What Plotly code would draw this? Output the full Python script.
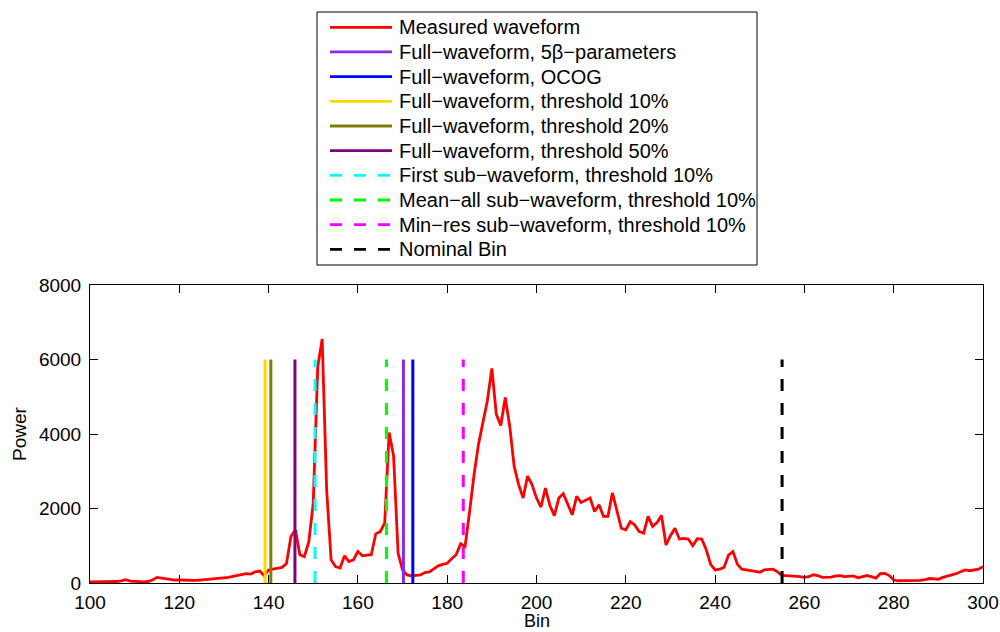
import plotly.graph_objects as go

# ---- waveform samples (range bin -> received power) ----
bins = list(range(100, 301))
power = [
    30, 30, 20, 20, 25, 30, 40, 60, 90, 50,          # 100-109
    40, 30, 30, 40, 80, 150, 130, 100, 90, 80,       # 110-119
    80, 70, 60, 70, 70, 80, 90, 100, 100, 120,       # 120-129
    120, 150, 180, 200, 210, 250, 240, 300, 320, 200,  # 130-139
    350, 380, 390, 420, 520, 1250, 1430, 760, 710, 1100,  # 140-149
    2150, 5800, 6550, 2500, 620, 440, 400, 730, 575, 620,  # 150-159
    845, 730, 750, 760, 1320, 1380, 1610, 4040, 3400, 800,  # 160-169
    350, 215, 190, 200, 215, 280, 300, 380, 460, 500,  # 170-179
    530, 650, 760, 1050, 980, 1900, 2900, 3720, 4300, 4900,  # 180-189
    5760, 4530, 4230, 4980, 4210, 3130, 2640, 2280, 2870, 2640,  # 190-199
    2280, 2040, 2550, 2080, 1810, 2280, 2400, 2100, 1830, 2330,  # 200-209
    2160, 2220, 2280, 1920, 2100, 1790, 1790, 2420, 1970, 1470,  # 210-219
    1430, 1650, 1560, 1380, 1340, 1790, 1520, 1625, 1810, 1020,  # 220-229
    1270, 1470, 1180, 1200, 1180, 1000, 1190, 1180, 900, 500,  # 230-239
    350, 370, 420, 750, 845, 500, 370, 340, 330, 310,  # 240-249
    290, 350, 360, 370, 300, 200, 200, 190, 200, 170,  # 250-259
    150, 170, 220, 200, 150, 150, 160, 190, 200, 170,  # 260-269
    180, 190, 140, 160, 200, 170, 130, 250, 260, 200,  # 270-279
    80, 60, 60, 60, 65, 70, 70, 90, 120, 110,        # 280-289
    100, 150, 180, 220, 250, 300, 350, 330, 340, 370,  # 290-299
    440,                                             # 300
]

# ---- retracking results (bin positions) ----
retracker_names = [
    "Full\u2212waveform, 5\u03b2\u2212parameters",
    "Full\u2212waveform, OCOG",
    "Full\u2212waveform, threshold 10%",
    "Full\u2212waveform, threshold 20%",
    "Full\u2212waveform, threshold 50%",
    "First sub\u2212waveform, threshold 10%",
    "Mean\u2212all sub\u2212waveform, threshold 10%",
    "Min\u2212res sub\u2212waveform, threshold 10%",
    "Nominal Bin",
]
retracker_bins = [170.2, 172.3, 139.2, 140.5, 145.9, 150.4, 166.4, 183.6, 255.0]
retracker_colors = ["#8A2BE2", "#0000FF", "#FFD700", "#808000", "#800080",
                    "#00FFFF", "#00FF00", "#FF00FF", "#000000"]
retracker_dashed = [False, False, False, False, False, True, True, True, True]
marker_top = 6000

x_ticks = [100, 120, 140, 160, 180, 200, 220, 240, 260, 280, 300]
y_ticks = [0, 2000, 4000, 6000, 8000]

FONT = "Liberation Sans, Arial, Helvetica, sans-serif"
DASH = "12px,12px"

W, H = 1000, 632
L, R, T, B = 90, 17, 285, 49
PW, PH = W - L - R, H - T - B


def px(xp):
    return (xp - L) / PW


def py(yp):
    return (H - B - yp) / PH


fig = go.Figure()

fig.add_trace(go.Scatter(
    x=bins, y=power, mode="lines", name="Measured waveform",
    line=dict(color="#FF0000", width=2.8), showlegend=False,
))

for name, b, c, dashed in zip(retracker_names, retracker_bins,
                              retracker_colors, retracker_dashed):
    fig.add_trace(go.Scatter(
        x=[b, b], y=[0, marker_top], mode="lines", name=name,
        line=dict(color=c, width=3, dash=DASH if dashed else "solid"),
        showlegend=False,
    ))

# ---- boxed legend above the axes ----
legend_names = ["Measured waveform"] + retracker_names
legend_colors = ["#FF0000"] + retracker_colors
legend_dashed = [False] + retracker_dashed

shapes = [dict(type="rect", xref="paper", yref="paper",
               x0=px(317), x1=px(757), y0=py(265), y1=py(12),
               line=dict(color="#000000", width=1), fillcolor="#FFFFFF",
               layer="above")]
annotations = []
row0, row_step = 27.3, 24.67
for i, (nm, c, d) in enumerate(zip(legend_names, legend_colors, legend_dashed)):
    yc = row0 + i * row_step
    shapes.append(dict(type="line", xref="paper", yref="paper",
                       x0=px(330), x1=px(392), y0=py(yc), y1=py(yc),
                       line=dict(color=c, width=2.8,
                                 dash=DASH if d else "solid"),
                       layer="above"))
    annotations.append(dict(xref="paper", yref="paper", x=px(397), y=py(yc),
                            text=nm, showarrow=False, xanchor="left",
                            yanchor="middle",
                            font=dict(family=FONT, size=20, color="#000000")))

# axis titles
annotations.append(dict(xref="paper", yref="paper", x=0.5, y=py(632),
                        text="Bin", showarrow=False, xanchor="center",
                        yanchor="bottom", borderpad=0,
                        font=dict(family=FONT, size=18, color="#000000")))
annotations.append(dict(xref="paper", yref="paper", x=px(19), y=0.5,
                        text="Power", showarrow=False, textangle=-90,
                        xanchor="center", yanchor="middle",
                        font=dict(family=FONT, size=19, color="#000000")))

fig.update_layout(
    width=W, height=H,
    margin=dict(l=L, r=R, t=T, b=B, autoexpand=False),
    paper_bgcolor="#FFFFFF", plot_bgcolor="#FFFFFF",
    font=dict(family=FONT, size=19, color="#000000"),
    shapes=shapes, annotations=annotations,
    showlegend=False,
)

fig.update_xaxes(
    range=[100, 300], tickvals=x_ticks, ticktext=[str(v) for v in x_ticks],
    ticks="inside", ticklen=8, tickcolor="#000000", tickwidth=1,
    ticklabelstandoff=2, automargin=False,
    showline=True, linecolor="#000000", linewidth=1, mirror="ticks",
    showgrid=False, zeroline=False,
)
fig.update_yaxes(
    range=[0, 8000], tickvals=y_ticks, ticktext=[str(v) for v in y_ticks],
    ticks="inside", ticklen=8, tickcolor="#000000", tickwidth=1,
    ticklabelstandoff=4, automargin=False,
    showline=True, linecolor="#000000", linewidth=1, mirror="ticks",
    showgrid=False, zeroline=False,
)

fig.write_html("out.html")
